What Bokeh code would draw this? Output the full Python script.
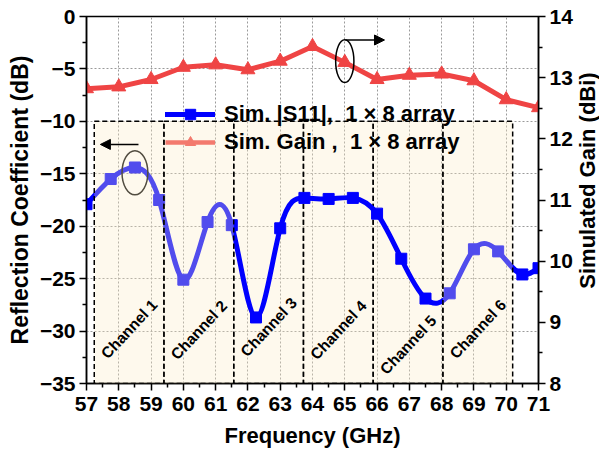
import math
import numpy as np
from bokeh.plotting import figure
from bokeh.layouts import row
from bokeh.models import (Range1d, LinearAxis, FixedTicker, BoxAnnotation, Arrow, NormalHead,
                          Legend, LegendItem, ColumnDataSource, LabelSet)
from bokeh.core.properties import value
from bokeh.embed import file_html
from bokeh.resources import INLINE

# ---------------- data ----------------
s11_freq = [57.0, 57.75, 58.5, 59.25, 60.0, 60.75, 61.5, 62.25, 63.0, 63.75,
            64.5, 65.25, 66.0, 66.75, 67.5, 68.25, 69.0, 69.75, 70.5, 71.0]
s11_db = [-17.9, -15.5, -14.4, -17.5, -25.1, -19.6, -19.9, -28.7, -20.2, -17.3,
          -17.4, -17.3, -18.8, -23.1, -26.9, -26.4, -22.2, -22.4, -24.6, -24.0]

gain_freq = [57, 58, 59, 60, 61, 62, 63, 64, 65, 66, 67, 68, 69, 70, 71]
gain_dbi = [12.82, 12.85, 12.97, 13.17, 13.21, 13.13, 13.27, 13.51, 13.25, 12.97,
            13.04, 13.06, 12.95, 12.64, 12.51]

channel_names = ["Channel 1", "Channel 2", "Channel 3", "Channel 4", "Channel 5", "Channel 6"]
channel_lo = [57.24, 59.40, 61.56, 63.72, 65.88, 68.04]
channel_hi = [59.40, 61.56, 63.72, 65.88, 68.04, 70.20]

x_ticks = list(range(57, 72))
left_ticks = [-35, -30, -25, -20, -15, -10, -5, 0]
right_ticks = [8, 9, 10, 11, 12, 13, 14]

legend_labels = ["Sim. |S11|,\u00a0 1 \u00d7 8 array", "Sim. Gain ,\u00a0 1 \u00d7 8 array"]
right_title = "Simulated Gain (dBi)"

# ---------------- styles ----------------
FONT = "Liberation Sans"
BLUE = "#0000FF"
RED = "#EF4444"
SALMON = "#F37A6E"   # red seen through the translucent channel box
BOX = "#FBECC6"
BOX_ALPHA = 0.32
CH_BOTTOM, CH_TOP = -35, -10
label_y = [-29.8, -29.9, -29.6, -29.9, -31.3, -29.8]

p = figure(width=575, height=452, x_range=Range1d(57, 71), y_range=Range1d(-35, 0),
           output_backend="svg", toolbar_location=None,
           min_border_left=86, min_border_right=35, min_border_top=16, min_border_bottom=69)
p.background_fill_color = "white"
p.border_fill_color = "white"
p.outline_line_color = "black"
p.outline_line_width = 1.5
p.extra_y_ranges = {"gain": Range1d(8, 14)}


def style_axis(ax, label_size="22px", label_standoff=6, tick_standoff=4):
    ax.axis_line_color = "black"
    ax.axis_line_width = 1.5
    ax.major_tick_line_color = "black"
    ax.major_tick_line_width = 1.5
    ax.minor_tick_line_color = "black"
    ax.minor_tick_line_width = 1.5
    ax.major_tick_in = 0
    ax.major_tick_out = 7
    ax.minor_tick_in = 0
    ax.minor_tick_out = 4
    ax.major_label_text_font = FONT
    ax.major_label_text_font_style = "bold"
    ax.major_label_text_font_size = "21px"
    ax.major_label_text_color = "black"
    ax.major_label_standoff = tick_standoff
    ax.axis_label_text_font = FONT
    ax.axis_label_text_font_style = "bold"
    ax.axis_label_text_font_size = label_size
    ax.axis_label_text_color = "black"
    ax.axis_label_standoff = label_standoff


xax = p.xaxis[0]
xax.ticker = FixedTicker(ticks=x_ticks, minor_ticks=[t + 0.5 for t in x_ticks[:-1]])
xax.axis_label = "Frequency (GHz)"
style_axis(xax, "22px", 9, 6)

yax = p.yaxis[0]
yax.ticker = FixedTicker(ticks=left_ticks, minor_ticks=[t + 2.5 for t in left_ticks[:-1]])
yax.major_label_overrides = {t: ("\u2212" + str(abs(t)) if t < 0 else str(t)) for t in left_ticks}
yax.axis_label = "Reflection Coefficient (dB)"
style_axis(yax, "23px", 4)

rax = LinearAxis(y_range_name="gain",
                 ticker=FixedTicker(ticks=right_ticks, minor_ticks=[t + 0.5 for t in right_ticks[:-1]]))
style_axis(rax)
p.add_layout(rax, "right")

for g in (p.xgrid[0], p.ygrid[0]):
    g.grid_line_color = "#9a9a9a"
    g.grid_line_dash = "2 2"
    g.grid_line_width = 1

# channel boxes 3-5 below the curves
for lo, hi in zip(channel_lo[2:5], channel_hi[2:5]):
    p.add_layout(BoxAnnotation(left=lo, right=hi, bottom=CH_BOTTOM, top=CH_TOP,
                               fill_color=BOX, fill_alpha=BOX_ALPHA, line_color="black",
                               line_alpha=1.0, line_width=1.5, line_dash="5 3",
                               level="underlay"))

# ---------------- smooth S11 curve (natural cubic spline as bezier segments) ----------------
xs = np.array(s11_freq, dtype=float)
ys = np.array(s11_db, dtype=float)
n = len(xs)
h = np.diff(xs)
A = np.zeros((n, n))
r = np.zeros(n)
A[0, 0] = 1
A[-1, -1] = 1
for i in range(1, n - 1):
    A[i, i - 1] = h[i - 1]
    A[i, i] = 2 * (h[i - 1] + h[i])
    A[i, i + 1] = h[i]
    r[i] = 6 * ((ys[i + 1] - ys[i]) / h[i] - (ys[i] - ys[i - 1]) / h[i - 1])
M = np.linalg.solve(A, r)
sec = np.diff(ys) / h
m0 = sec - h * (2 * M[:-1] + M[1:]) / 6
m1 = sec + h * (M[:-1] + 2 * M[1:]) / 6
bez = ColumnDataSource(dict(
    x0=xs[:-1], y0=ys[:-1], x1=xs[1:], y1=ys[1:],
    cx0=xs[:-1] + h / 3, cy0=ys[:-1] + m0 * h / 3,
    cx1=xs[1:] - h / 3, cy1=ys[1:] - m1 * h / 3))
s11_curve = p.bezier(x0="x0", y0="y0", x1="x1", y1="y1", cx0="cx0", cy0="cy0", cx1="cx1",
                     cy1="cy1", source=bez, line_color=BLUE, line_width=5, line_cap="round")
s11_markers = p.scatter(s11_freq, s11_db, marker="square", size=11,
                        fill_color=BLUE, line_color=BLUE)

gain_line = p.line(gain_freq, gain_dbi, y_range_name="gain", line_color=RED,
                   line_width=5, line_join="round")
gain_markers = p.scatter(gain_freq, gain_dbi, y_range_name="gain", marker="triangle",
                         size=14, fill_color=RED, line_color=RED)

# legend swatches for the gain entry (seen through the translucent channel box)
gain_leg_line = p.line(x=[np.nan], y=[np.nan], line_color=SALMON, line_width=4.5)
gain_leg_mark = p.scatter(x=[np.nan], y=[np.nan], marker="triangle", size=14,
                          fill_color=SALMON, line_color=SALMON)

# channel boxes 1, 2, 6 drawn semi-transparent over the curves
for idx in (0, 1, 5):
    p.add_layout(BoxAnnotation(left=channel_lo[idx], right=channel_hi[idx], bottom=CH_BOTTOM,
                               top=CH_TOP, fill_color=BOX, fill_alpha=BOX_ALPHA,
                               line_color="black", line_alpha=1.0, line_width=1.5,
                               line_dash="5 3", level="overlay"))

legend = Legend(items=[LegendItem(label=legend_labels[0], renderers=[s11_curve, s11_markers]),
                       LegendItem(label=legend_labels[1], renderers=[gain_leg_line, gain_leg_mark])],
                location=(79, 228), orientation="vertical",
                glyph_width=50, glyph_height=26, label_height=26, spacing=2,
                padding=0, margin=0, label_standoff=9,
                border_line_color=None, background_fill_alpha=0,
                label_text_font=FONT, label_text_font_style="bold",
                label_text_font_size="22px", label_text_color="black")
p.add_layout(legend)

centers = [(a + b) / 2 for a, b in zip(channel_lo, channel_hi)]
lab_src = ColumnDataSource(dict(x=centers, y=label_y, text=channel_names))
p.add_layout(LabelSet(x="x", y="y", text="text", source=lab_src, angle=0.82,
                      text_align="center", text_baseline="middle", text_font=value(FONT),
                      text_font_style="bold", text_font_size="15.5px", text_color="black",
                      level="overlay"))

# ellipses + arrows marking the axes
e1 = p.ellipse(x=[s11_freq[2]], y=[s11_db[2] - 0.5], width=0.8, height=4.2,
               fill_color=None, line_color="black", line_width=1.5)
e1.level = "overlay"
e2 = p.ellipse(x=[gain_freq[8]], y=[gain_dbi[8] + 0.02], width=0.565, height=0.70,
               y_range_name="gain", fill_color=None, line_color="black", line_width=1.5)
e2.level = "overlay"
p.add_layout(Arrow(x_start=58.61, y_start=-12.2, x_end=57.43, y_end=-12.2, line_width=1.5,
                   end=NormalHead(size=10, fill_color="black", line_color="black"),
                   level="overlay"))
p.add_layout(Arrow(x_start=65.02, y_start=-2.24, x_end=66.23, y_end=-2.24, line_width=1.5,
                   end=NormalHead(size=10, fill_color="black", line_color="black"),
                   level="overlay"))

# ---------------- right-axis title strip (reads bottom-to-top) ----------------
p2 = figure(width=24, height=452, x_range=Range1d(0, 24), y_range=Range1d(0, 452),
            output_backend="svg", toolbar_location=None, min_border=0,
            x_axis_location=None, y_axis_location=None)
p2.outline_line_color = None
p2.background_fill_color = "white"
p2.border_fill_color = "white"
p2.grid.visible = False
p2.text(x=[12], y=[250], text=[right_title], angle=math.pi / 2,
        text_align="center", text_baseline="middle", text_font=value(FONT),
        text_font_style="bold", text_font_size="22px", text_color="black")

layout = row(p, p2, spacing=0)
open("out.html", "w").write(file_html(layout, INLINE))
